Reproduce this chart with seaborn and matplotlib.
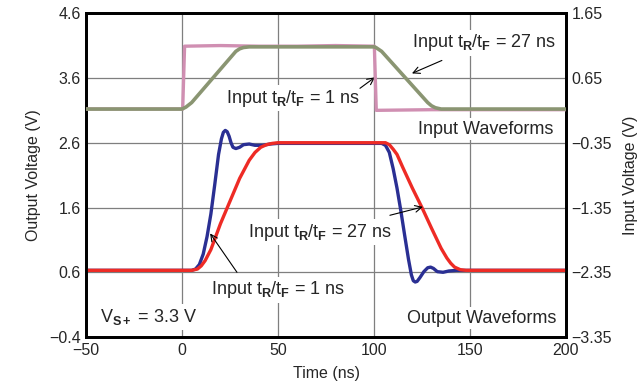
import matplotlib
matplotlib.use("Agg")
import matplotlib.pyplot as plt
import seaborn as sns
import pandas as pd

# input waveforms (right axis, V)
t_in_fast = [-50, 0.3, 1.3, 20, 40, 60, 80, 100.2, 101.2, 130, 200]
v_in_fast = [0.17, 0.17, 1.14, 1.15, 1.14, 1.14, 1.15, 1.14, 0.15, 0.16, 0.16]

t_in_slow = [-50, 0, 2, 5, 28, 30, 32, 35, 100, 101, 104, 128, 130, 132, 135, 200]
v_in_slow = [0.17, 0.17, 0.2, 0.27, 1.06, 1.1, 1.12, 1.13, 1.13, 1.12, 1.06, 0.27, 0.22, 0.19, 0.17, 0.17]

# output waveforms (left axis, V)
t_out_fast = [-50, 5, 7, 9, 11, 13, 15, 17, 19, 20.5, 21.5, 22.5, 23.5, 24.5, 25.5, 26.5, 28, 30, 32, 35, 38, 42, 46, 50,
              100, 104, 106, 108, 110, 112, 114, 116, 118, 119.5, 120.5, 121.5, 122.5, 124, 126, 128, 129.5, 131, 133, 136, 139, 143, 200]
v_out_fast = [0.63, 0.63, 0.65, 0.72, 0.88, 1.15, 1.5, 1.95, 2.42, 2.66, 2.76, 2.79, 2.77, 2.7, 2.6, 2.53, 2.51, 2.53, 2.57, 2.58, 2.56, 2.56, 2.58, 2.59,
              2.59, 2.59, 2.56, 2.45, 2.2, 1.9, 1.55, 1.17, 0.8, 0.56, 0.47, 0.45, 0.46, 0.52, 0.61, 0.67, 0.68, 0.66, 0.61, 0.6, 0.62, 0.63, 0.63]

t_out_slow = [-50, 5, 8, 10, 12, 15, 20, 25, 30, 35, 38, 41, 44, 47, 50, 100, 106, 108, 110, 112, 115, 120, 125, 130, 135, 138, 140, 142, 145, 148, 200]
v_out_slow = [0.63, 0.63, 0.65, 0.7, 0.78, 0.95, 1.35, 1.7, 2.05, 2.33, 2.45, 2.53, 2.57, 2.59, 2.6, 2.6, 2.6, 2.57, 2.5, 2.42, 2.22, 1.9, 1.6, 1.28, 0.97, 0.82, 0.74, 0.68, 0.64, 0.63, 0.63]

left_ticks = [-0.4, 0.6, 1.6, 2.6, 3.6, 4.6]
right_ticks = [-3.35, -2.35, -1.35, -0.35, 0.65, 1.65]
x_ticks = [-50, 0, 50, 100, 150, 200]

sns.set_theme(style="white")
plt.rcParams["font.family"] = ["Liberation Sans", "DejaVu Sans"]
plt.rcParams["mathtext.fontset"] = "custom"
plt.rcParams["mathtext.rm"] = "Liberation Sans"
plt.rcParams["mathtext.it"] = "Liberation Sans"
plt.rcParams["mathtext.bf"] = "Liberation Sans:bold"

fig = plt.figure(figsize=(6.43, 3.87), dpi=100)
ax = fig.add_axes([0.134, 0.129, 0.746, 0.837])
ax2 = ax.twinx()

grid_c = "#7f7f7f"
for x in x_ticks[1:-1]:
    ax.axvline(x, color=grid_c, lw=0.9, zorder=0)
for y in left_ticks[1:-1]:
    ax.axhline(y, color=grid_c, lw=0.9, zorder=0)

df_of = pd.DataFrame({"t": t_out_fast, "v": v_out_fast})
df_os = pd.DataFrame({"t": t_out_slow, "v": v_out_slow})
df_if = pd.DataFrame({"t": t_in_fast, "v": v_in_fast})
df_is = pd.DataFrame({"t": t_in_slow, "v": v_in_slow})

sns.lineplot(data=df_of, x="t", y="v", ax=ax, color="#2a2f93", lw=2.4, sort=False, zorder=3)
sns.lineplot(data=df_os, x="t", y="v", ax=ax, color="#ee2b25", lw=2.4, sort=False, zorder=4)
sns.lineplot(data=df_if, x="t", y="v", ax=ax2, color="#d08fb2", lw=2.4, sort=False, zorder=3)
sns.lineplot(data=df_is, x="t", y="v", ax=ax2, color="#8a9572", lw=2.6, sort=False, zorder=4)

ax.set_xlim(-50, 200)
ax.set_ylim(-0.4, 4.6)
ax2.set_ylim(-3.35, 1.65)
ax.set_xticks(x_ticks)
ax.set_yticks(left_ticks)
ax2.set_yticks(right_ticks)
ax.set_xticklabels([str(v).replace("-", "\u2212") for v in x_ticks], fontsize=11.5)
ax.set_yticklabels([f"{v:.1f}".replace("-", "\u2212") for v in left_ticks], fontsize=11.5)
ax2.set_yticklabels([f"{v:.2f}".replace("-", "\u2212") for v in right_ticks], fontsize=11.5)
ax.tick_params(length=0, pad=4)
ax2.tick_params(length=0, pad=4)

ax.set_xlabel("Time (ns)", fontsize=11.5, labelpad=6)
ax.set_ylabel("Output Voltage (V)", fontsize=11.5, labelpad=6)
ax2.set_ylabel("Input Voltage (V)", fontsize=11.5, labelpad=8)

for a in (ax, ax2):
    for s in a.spines.values():
        s.set_color("black")
        s.set_linewidth(2.0)

box = dict(facecolor="white", edgecolor="none", pad=2)
fs = 13
lbl27 = r"Input t$_{\mathbf{R}}$/t$_{\mathbf{F}}$ = 27 ns"
lbl1 = r"Input t$_{\mathbf{R}}$/t$_{\mathbf{F}}$ = 1 ns"
ax.text(119.8, 4.14, lbl27, fontsize=fs, ha="left", va="center", bbox=box, zorder=5)
ax.text(22.9, 3.29, lbl1, fontsize=fs, ha="left", va="center", bbox=box, zorder=5)
ax.text(122.9, 2.81, "Input Waveforms", fontsize=fs, ha="left", va="center", bbox=box, zorder=5)
ax.text(34.4, 1.22, lbl27, fontsize=fs, ha="left", va="center", bbox=box, zorder=5)
ax.text(15.1, 0.33, lbl1, fontsize=fs, ha="left", va="center", bbox=box, zorder=5)
ax.text(-42.7, -0.09, r"V$_{\mathbf{S+}}$ = 3.3 V", fontsize=fs, ha="left", va="center", bbox=box, zorder=5)
ax.text(117.2, -0.11, "Output Waveforms", fontsize=fs, ha="left", va="center", bbox=box, zorder=5)

arrow = dict(arrowstyle="->", color="black", lw=0.8, shrinkA=0, shrinkB=0)
ax.annotate("", xy=(119.8, 3.67), xytext=(135.4, 3.87), arrowprops=arrow, zorder=6)
ax.annotate("", xy=(100.5, 3.61), xytext=(92.7, 3.44), arrowprops=arrow, zorder=6)
ax.annotate("", xy=(125.5, 1.61), xytext=(108.3, 1.48), arrowprops=arrow, zorder=6)
ax.annotate("", xy=(14.6, 1.2), xytext=(28.6, 0.6), arrowprops=arrow, zorder=6)

fig.savefig("out.png", dpi=100)
